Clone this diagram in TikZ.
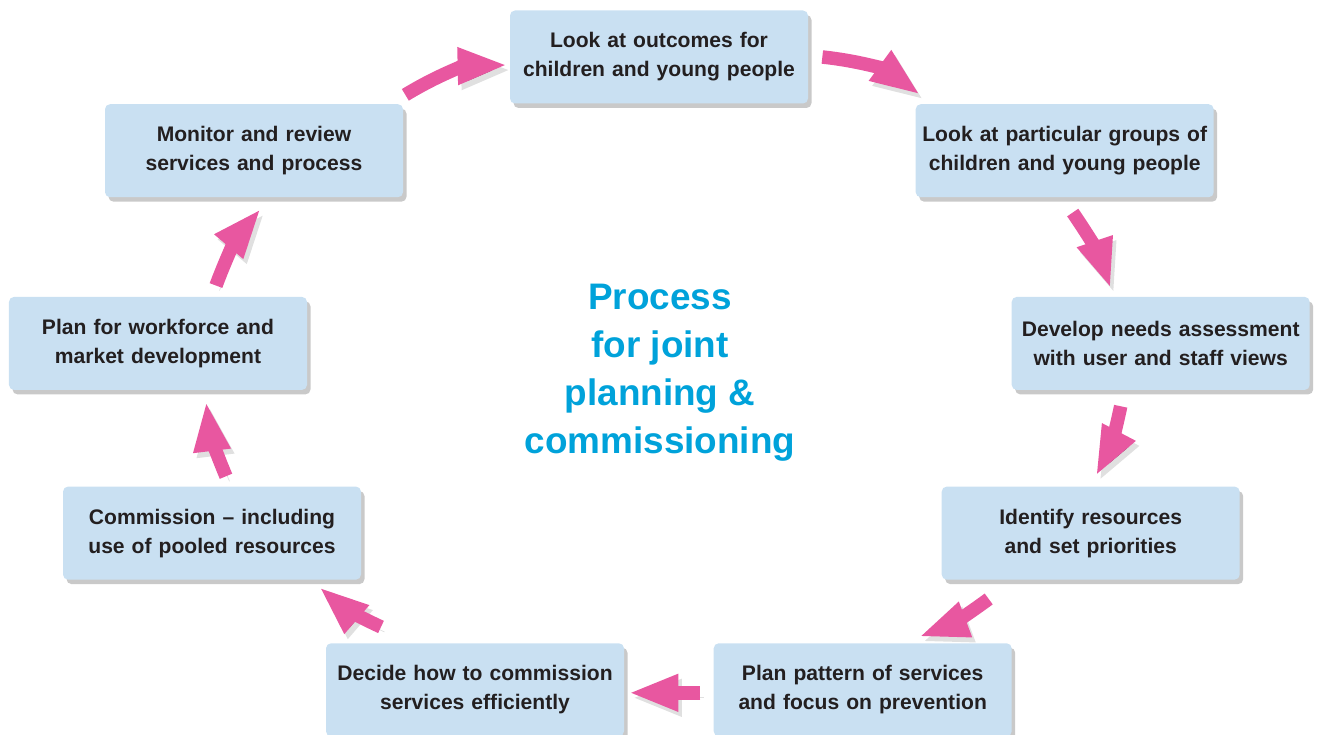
\documentclass[tikz,border=0pt]{standalone}
\usepackage{fontspec}
\setmainfont{Liberation Sans}
\usepackage{xcolor}
\usetikzlibrary{positioning,arrows.meta,shadows}

\definecolor{boxblue}{RGB}{201,224,242}
\definecolor{arrowpink}{RGB}{232,87,160}
\definecolor{titlecyan}{RGB}{0,162,218}
\definecolor{darktext}{RGB}{35,31,32}

\begin{document}
\begin{tikzpicture}
                \tikzstyle{stage} = [rectangle, rounded corners=0.1cm, fill=boxblue, minimum width=5.96cm, minimum height=1.86cm, text width=5.7cm, align=center, text=darktext, font=\fontsize{12}{16.5}\selectfont\bfseries, drop shadow={shadow xshift=0.07cm, shadow yshift=-0.09cm, opacity=0.3, fill=black!70}]
                \tikzstyle{flow} = [draw=arrowpink, line width=0.27cm, -{Triangle[length=1cm,width=0.68cm]}, preaction={draw=black, draw opacity=0.12, transform canvas={shift={(0.07cm,-0.1cm)}}}]

                \useasboundingbox (0,0) rectangle (26.34,-14.7);

                \node [stage] (outcomes) at (13.18,-1.14) {Look at outcomes for\\children and young people};
                \node [stage, below right = 0cm and 2.14cm of outcomes] (groups) {Look at particular groups of\\children and young people};
                \node [stage, below = 1.98cm of groups, xshift=1.92cm] (needs) {Develop needs assessment\\with user and staff views};
                \node [stage, below = 1.92cm of needs, xshift=-1.4cm] (resources) {Identify resources\\and set priorities};
                \node [stage, below = 1.26cm of resources, xshift=-4.56cm] (pattern) {Plan pattern of services\\and focus on prevention};
                \node [stage, left = 1.78cm of pattern] (efficient) {Decide how to commission\\services efficiently};
                \node [stage, above = 1.26cm of efficient, xshift=-5.26cm] (pooled) {Commission -- including\\use of pooled resources};
                \node [stage, above = 1.92cm of pooled, xshift=-1.08cm] (workforce) {Plan for workforce and\\market development};
                \node [stage, above = 1.98cm of workforce, xshift=1.92cm] (monitor) {Monitor and review\\services and process};

                \node [align=center, text=titlecyan, font=\fontsize{21}{27.3}\selectfont\bfseries] (title) at (13.2,-7.46) {Process\\for joint\\planning \&\\commissioning};

                \draw [flow] ([xshift=0.04cm,yshift=0.18cm]monitor.north east) to[bend left=15] ([xshift=-0.04cm,yshift=-0.16cm]outcomes.west);
                \draw [flow] ([xshift=0.28cm]outcomes.east) to[bend left=15] ([xshift=0.1cm,yshift=0.18cm]groups.north west);
                \draw [flow] ([xshift=0.16cm,yshift=-0.3cm]groups.south) to[bend left=8] ([xshift=-1cm,yshift=0.16cm]needs.north);
                \draw [flow] ([xshift=-0.8cm,yshift=-0.32cm]needs.south) to[bend left=8] ([xshift=0.1cm,yshift=0.2cm]resources.north);
                \draw [flow] ([xshift=-2.04cm,yshift=-0.38cm]resources.south) to[bend left=8] ([xshift=1.12cm,yshift=0.12cm]pattern.north);
                \draw [flow] ([xshift=-0.26cm,yshift=-0.06cm]pattern.west) -- ([xshift=0.08cm,yshift=-0.06cm]efficient.east);
                \draw [flow] ([xshift=-1.88cm,yshift=0.32cm]efficient.north) to[bend left=8] ([xshift=2.14cm,yshift=-0.14cm]pooled.south);
                \draw [flow] ([xshift=0.28cm,yshift=0.2cm]pooled.north) to[bend left=8] ([xshift=0.96cm,yshift=-0.22cm]workforce.south);
                \draw [flow] ([xshift=1.16cm,yshift=0.22cm]workforce.north) to[bend left=10] ([xshift=0.14cm,yshift=-0.22cm]monitor.south);
\end{tikzpicture}
\end{document}
